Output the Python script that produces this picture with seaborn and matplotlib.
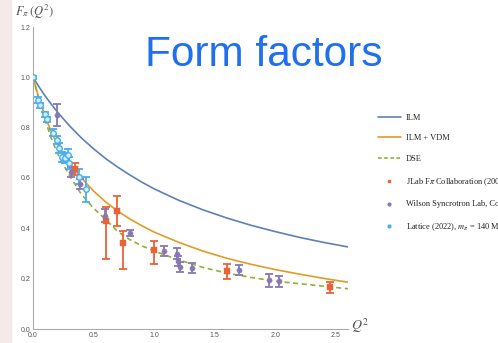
import numpy as np
import pandas as pd
import matplotlib
matplotlib.use("Agg")
import matplotlib.pyplot as plt
from matplotlib.lines import Line2D
from matplotlib.patches import Rectangle
import seaborn as sns

# ---------------- data ----------------
curve_q2 = [0.0, 0.05, 0.1, 0.15, 0.2, 0.3, 0.4, 0.5, 0.6, 0.7, 0.8, 0.9, 1.0,
            1.2, 1.4, 1.6, 1.8, 2.0, 2.2, 2.4, 2.6]
ilm = [1.0, 0.962, 0.926, 0.894, 0.863, 0.808, 0.759, 0.716, 0.677, 0.643, 0.612,
       0.583, 0.557, 0.512, 0.474, 0.441, 0.412, 0.387, 0.364, 0.344, 0.326]
ilm_vdm = [1.0, 0.915, 0.845, 0.785, 0.735, 0.66, 0.60, 0.548, 0.505, 0.468, 0.437,
           0.41, 0.385, 0.345, 0.31, 0.281, 0.257, 0.236, 0.218, 0.201, 0.186]
dse = [1.0, 0.91, 0.83, 0.76, 0.70, 0.61, 0.535, 0.48, 0.435, 0.387, 0.355,
       0.33, 0.31, 0.275, 0.245, 0.222, 0.205, 0.19, 0.18, 0.17, 0.16]

jlab_q2 = [0.35, 0.60, 0.69, 0.745, 1.00, 1.60, 2.45]
jlab_f = [0.635, 0.43, 0.47, 0.34, 0.315, 0.23, 0.165]
jlab_lo = [0.025, 0.15, 0.06, 0.10, 0.055, 0.03, 0.02]
jlab_hi = [0.025, 0.055, 0.06, 0.05, 0.035, 0.03, 0.02]

wil_q2 = [0.20, 0.31, 0.39, 0.595, 0.80, 1.08, 1.19, 1.20, 1.21, 1.31, 1.70, 1.95, 2.03]
wil_f = [0.85, 0.625, 0.575, 0.45, 0.38, 0.31, 0.30, 0.27, 0.245, 0.243, 0.235, 0.193, 0.19]
wil_err = [0.043, 0.02, 0.02, 0.025, 0.012, 0.02, 0.02, 0.02, 0.02, 0.02, 0.02, 0.027, 0.022]

lat_q2 = [0.0, 0.04, 0.06, 0.10, 0.115, 0.165, 0.20, 0.215, 0.24, 0.265, 0.29, 0.30, 0.38, 0.44]
lat_f = [1.0, 0.91, 0.89, 0.853, 0.833, 0.78, 0.75, 0.72, 0.685, 0.68, 0.69, 0.66, 0.605, 0.555]
lat_err = [0.005, 0.01, 0.01, 0.01, 0.01, 0.015, 0.015, 0.02, 0.02, 0.02, 0.025, 0.025, 0.03, 0.05]

labels = ["ILM", "ILM + VDM", "DSE", r"JLab F$\pi$ Collaboration (2008)",
          "Wilson Syncrotron Lab, Cornell", r"Lattice (2022), $m_\pi$ = 140 MeV"]
x_ticks = [0.0, 0.5, 1.0, 1.5, 2.0, 2.5]
y_ticks = [0.0, 0.2, 0.4, 0.6, 0.8, 1.0, 1.2]

# ---------------- style ----------------
C_BLUE, C_ORANGE, C_GREEN = "#5E81B5", "#E19C24", "#8FB131"
C_RED, C_PURPLE, C_LAT = "#EB6235", "#8778B3", "#49AEEE"

sns.set_theme(style="white")
plt.rcParams["mathtext.fontset"] = "stix"
plt.rcParams["font.family"] = ["Liberation Sans", "DejaVu Sans"]

W, H = 498, 343
fig = plt.figure(figsize=(W / 100, H / 100), dpi=100)
fig.patch.set_facecolor("white")
fig.add_artist(Rectangle((0, 0), 11 / W, 1, transform=fig.transFigure,
                         color="#F6E9EA", zorder=0))

x0, x1 = 33, 348
y0, y1 = 329, 27
ax = fig.add_axes([x0 / W, 1 - y0 / H, (x1 - x0) / W, (y0 - y1) / H])
ax.set_facecolor("none")

curves = pd.DataFrame({
    "Q2": curve_q2 * 3,
    "F": ilm + ilm_vdm + dse,
    "model": ["ILM"] * len(curve_q2) + ["ILM + VDM"] * len(curve_q2) + ["DSE"] * len(curve_q2),
})
sns.lineplot(data=curves, x="Q2", y="F", hue="model", style="model",
             palette={"ILM": C_BLUE, "ILM + VDM": C_ORANGE, "DSE": C_GREEN},
             dashes={"ILM": "", "ILM + VDM": "", "DSE": (3, 2.2)},
             linewidth=1.2, legend=False, ax=ax, zorder=2)

# error bars
ax.errorbar(jlab_q2, jlab_f, yerr=[jlab_lo, jlab_hi], fmt="none", ecolor=C_RED,
            elinewidth=1.3, capsize=2.6, capthick=1.3, zorder=3)
ax.errorbar(wil_q2, wil_f, yerr=wil_err, fmt="none", ecolor=C_PURPLE,
            elinewidth=1.3, capsize=2.6, capthick=1.3, zorder=3)
ax.errorbar(lat_q2, lat_f, yerr=lat_err, fmt="none", ecolor=C_LAT,
            elinewidth=1.3, capsize=2.6, capthick=1.3, zorder=3)

sns.scatterplot(x=jlab_q2, y=jlab_f, marker="s", s=14, color=C_RED,
                edgecolor=C_RED, linewidth=0.3, ax=ax, zorder=4, legend=False)
sns.scatterplot(x=wil_q2, y=wil_f, marker="o", s=14, color=C_PURPLE,
                edgecolor=C_PURPLE, linewidth=0.3, ax=ax, zorder=4, legend=False)
sns.scatterplot(x=lat_q2, y=lat_f, marker="o", s=16, facecolor="#D6EEFC",
                edgecolor=C_LAT, linewidth=1.0, ax=ax, zorder=4, legend=False)

ax.set_xlim(0, 2.6)
ax.set_ylim(0, 1.2)
ax.set_xlabel("")
ax.set_ylabel("")
ax.set_xticks(x_ticks)
ax.set_yticks(y_ticks)
ax.set_xticklabels([f"{v:.1f}" for v in x_ticks])
ax.set_yticklabels([f"{v:.1f}" for v in y_ticks])
ax.set_xticks(np.arange(0, 2.61, 0.1), minor=True)
ax.set_yticks(np.arange(0, 1.21, 0.05), minor=True)
for s in ["top", "right"]:
    ax.spines[s].set_visible(False)
for s in ["left", "bottom"]:
    ax.spines[s].set_color("#AAAAAA")
    ax.spines[s].set_linewidth(0.8)
ax.tick_params(which="both", direction="in", color="#AAAAAA", width=0.6,
               labelsize=5, labelcolor="#555555", pad=2)
ax.tick_params(which="major", length=4)
ax.tick_params(which="minor", length=2)

# texts
fig.text(145 / W, 1 - 66 / H, "Form factors", fontsize=30.5, color="#1F6FEF",
         family="Liberation Sans", va="baseline", ha="left")
fig.text(15 / W, 1 - 12 / H, r"$F_\pi\,(Q^2)$", fontsize=9, color="#555555",
         va="center", ha="left")
fig.text(351 / W, 1 - 326 / H, r"$Q^2$", fontsize=10, color="#555555",
         va="center", ha="left")

# legend
handles = [
    Line2D([], [], color=C_BLUE, lw=1.2),
    Line2D([], [], color=C_ORANGE, lw=1.2),
    Line2D([], [], color=C_GREEN, lw=1.2, dashes=(2.2, 1.5)),
    Line2D([], [], color=C_RED, lw=0, marker="s", markersize=2),
    Line2D([], [], color=C_PURPLE, lw=0, marker="o", markersize=2),
    Line2D([], [], color=C_LAT, lw=0, marker="o", markersize=2),
]
fig.legend(handles, labels, loc="upper left", bbox_to_anchor=(378 / W, 1 - 113.5 / H),
           frameon=False, prop={"family": "Liberation Serif", "size": 6.0},
           handlelength=2.7, handletextpad=0.6, labelspacing=1.54,
           borderaxespad=0, borderpad=0, numpoints=1, labelcolor="#222222")

fig.savefig("out.png", dpi=100)
